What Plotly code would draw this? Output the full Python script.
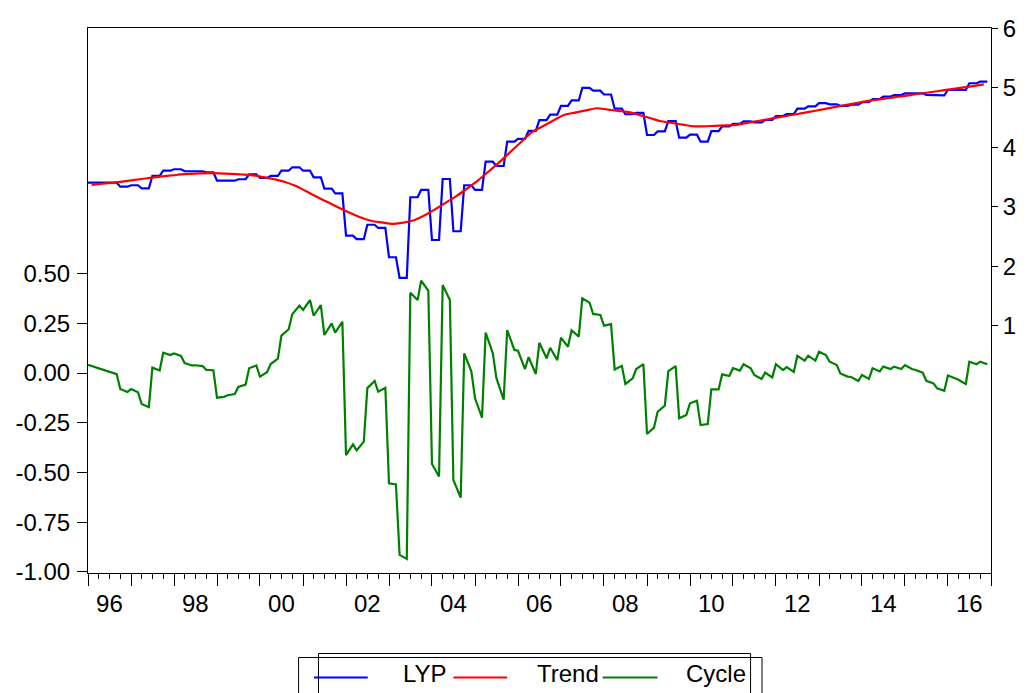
import numpy as np
import pandas as pd
import plotly.graph_objects as go

# ---------------- data ----------------
start_month = "1996-01-01"

# LYP, one value per quarter (series is monthly, constant within each quarter)
lyp_quarterly = [
    3.408, 3.408, 3.408, 3.341, 3.365, 3.314, 3.521, 3.610, 3.634, 3.600, 3.600, 3.583,
    3.442, 3.442, 3.466, 3.550, 3.487, 3.521, 3.610, 3.667, 3.610, 3.499, 3.308, 3.227,
    2.518, 2.459, 2.701, 2.647, 2.155, 1.807, 3.163, 3.286, 2.445, 3.470, 2.592, 3.365,
    3.286, 3.761, 3.689, 4.097, 4.143, 4.280, 4.460, 4.551, 4.700, 4.790, 5.000, 4.955,
    4.890, 4.652, 4.558, 4.580, 4.210, 4.270, 4.445, 4.165, 4.215, 4.097, 4.275, 4.355,
    4.395, 4.440, 4.420, 4.462, 4.529, 4.560, 4.652, 4.690, 4.745, 4.725, 4.700, 4.720,
    4.760, 4.815, 4.855, 4.880, 4.910, 4.910, 4.885, 4.875, 4.966, 4.966, 5.079, 5.106,
]

# HP trend, read at the middle month of each quarter
trend_quarterly = [
    3.373, 3.390, 3.407, 3.429, 3.454, 3.478, 3.501, 3.522, 3.542, 3.557, 3.563, 3.569,
    3.565, 3.555, 3.546, 3.532, 3.501, 3.466, 3.420, 3.351, 3.259, 3.168, 3.078, 2.988,
    2.904, 2.826, 2.769, 2.740, 2.717, 2.738, 2.776, 2.860, 2.965, 3.077, 3.191, 3.319,
    3.456, 3.605, 3.763, 3.932, 4.101, 4.257, 4.358, 4.457, 4.550, 4.586, 4.623, 4.659,
    4.637, 4.615, 4.593, 4.543, 4.492, 4.441, 4.411, 4.383, 4.356, 4.356, 4.364, 4.371,
    4.381, 4.413, 4.445, 4.477, 4.509, 4.541, 4.573, 4.606, 4.640, 4.674, 4.707, 4.741,
    4.774, 4.801, 4.827, 4.852, 4.877, 4.903, 4.928, 4.954, 4.980, 5.006, 5.032, 5.059,
]

# Cycle, monthly (one row per year)
cycle_monthly = [
    0.041, 0.035, 0.029, 0.024, 0.018, 0.012, 0.008, 0.001, -0.006, -0.080, -0.088, -0.096,   # 1996
    -0.081, -0.089, -0.097, -0.156, -0.164, -0.172, 0.027, 0.020, 0.013, 0.102, 0.096, 0.090,  # 1997
    0.098, 0.092, 0.086, 0.050, 0.044, 0.038, 0.039, 0.037, 0.035, 0.016, 0.015, 0.014,      # 1998
    -0.124, -0.122, -0.120, -0.112, -0.109, -0.106, -0.070, -0.064, -0.058, 0.024, 0.031, 0.038,  # 1999
    -0.018, -0.007, 0.004, 0.045, 0.058, 0.072, 0.188, 0.204, 0.220, 0.295, 0.317, 0.339,    # 2000
    0.317, 0.342, 0.367, 0.288, 0.315, 0.342, 0.191, 0.220, 0.250, 0.203, 0.230, 0.258,      # 2001
    -0.413, -0.386, -0.359, -0.389, -0.367, -0.345, -0.076, -0.058, -0.040, -0.094, -0.084, -0.074,  # 2002
    -0.555, -0.558, -0.561, -0.915, -0.925, -0.935, 0.404, 0.386, 0.367, 0.464, 0.439, 0.414,  # 2003
    -0.458, -0.490, -0.521, 0.443, 0.405, 0.367, -0.538, -0.583, -0.627, 0.099, 0.053, 0.007,  # 2004
    -0.127, -0.176, -0.225, 0.203, 0.151, 0.099, -0.025, -0.080, -0.134, 0.216, 0.166, 0.116,  # 2005
    0.112, 0.066, 0.020, 0.080, 0.038, -0.005, 0.152, 0.113, 0.074, 0.127, 0.096, 0.065,     # 2006
    0.178, 0.155, 0.132, 0.215, 0.199, 0.183, 0.376, 0.365, 0.354, 0.297, 0.295, 0.292,     # 2007
    0.238, 0.242, 0.246, 0.018, 0.027, 0.036, -0.055, -0.041, -0.027, 0.020, 0.033, 0.045,   # 2008
    -0.307, -0.291, -0.275, -0.195, -0.180, -0.164, 0.010, 0.022, 0.035, -0.228, -0.220, -0.211,  # 2009
    -0.152, -0.146, -0.139, -0.262, -0.260, -0.257, -0.082, -0.082, -0.082, -0.007, -0.011, -0.015,  # 2010
    0.024, 0.018, 0.012, 0.044, 0.034, 0.024, -0.010, -0.020, -0.030, 0.002, -0.010, -0.022,  # 2011
    0.044, 0.030, 0.015, 0.030, 0.018, 0.005, 0.086, 0.074, 0.062, 0.087, 0.075, 0.062,     # 2012
    0.107, 0.098, 0.090, 0.057, 0.048, 0.040, -0.002, -0.010, -0.018, -0.020, -0.030, -0.040,  # 2013
    -0.010, -0.020, -0.030, 0.024, 0.016, 0.008, 0.032, 0.026, 0.020, 0.032, 0.026, 0.020,   # 2014
    0.040, 0.030, 0.020, 0.015, 0.008, 0.002, -0.039, -0.045, -0.052, -0.077, -0.083, -0.090,  # 2015
    -0.013, -0.020, -0.027, -0.034, -0.045, -0.055, 0.057, 0.050, 0.044, 0.057, 0.050, 0.044,  # 2016
]

year_ticks = [str(y) for y in range(1996, 2018)]
year_labels = ["96", "98", "00", "02", "04", "06", "08", "10", "12", "14", "16"]
label_years = [1996, 1998, 2000, 2002, 2004, 2006, 2008, 2010, 2012, 2014, 2016]
left_ticks = [-1.0, -0.75, -0.5, -0.25, 0.0, 0.25, 0.5]
left_labels = ["-1.00", "-0.75", "-0.50", "-0.25", "0.00", "0.25", "0.50"]
right_ticks = [1, 2, 3, 4, 5, 6]
right_labels = ["1", "2", "3", "4", "5", "6"]
legend_names = ["LYP", "Trend", "Cycle"]
colors = ["#0000FF", "#FF0000", "#008000"]

# ---------------- build ----------------
months = pd.date_range(start_month, periods=len(cycle_monthly), freq="MS")
quarter_mid = pd.date_range("1996-02-01", periods=len(trend_quarterly), freq="3MS")
lyp_monthly = np.repeat(lyp_quarterly, 3)
quarter_starts = pd.date_range(start_month, "2017-01-01", freq="3MS")

FONT = "Liberation Sans, Arial, sans-serif"
W, H = 1028, 693
L, R, T, B = 88, 33, 28, 120
PW, PH = W - L - R, H - T - B
xr = ["1996-01-01", "2017-01-01"]

def px(x):
    return (x - L) / PW

def py(y):
    return (H - B - y) / PH

fig = go.Figure()
fig.add_trace(go.Scatter(x=months, y=lyp_monthly, yaxis="y2", mode="lines",
                         line=dict(color=colors[0], width=2.2), name=legend_names[0]))
fig.add_trace(go.Scatter(x=quarter_mid, y=trend_quarterly, yaxis="y2", mode="lines",
                         line=dict(color=colors[1], width=2.2, shape="spline"), name=legend_names[1]))
fig.add_trace(go.Scatter(x=months, y=cycle_monthly, yaxis="y", mode="lines",
                         line=dict(color=colors[2], width=2.2), name=legend_names[2]))
# empty trace so the tick-mark axis exists
fig.add_trace(go.Scatter(x=[], y=[], xaxis="x2", yaxis="y", showlegend=False, hoverinfo="skip"))

fig.update_layout(
    width=W, height=H,
    margin=dict(l=L, r=R, t=T, b=B),
    paper_bgcolor="white", plot_bgcolor="white",
    showlegend=False,
    font=dict(family=FONT, size=24, color="black"),
    xaxis=dict(
        type="date", range=xr, showgrid=False, zeroline=False,
        showline=True, linecolor="black", linewidth=1, mirror=True,
        tickmode="array",
        tickvals=[f"{y}-07-01" for y in label_years], ticktext=year_labels,
        ticks="outside", ticklen=9, tickcolor="rgba(0,0,0,0)",
        tickfont=dict(family=FONT, size=24, color="black"),
        minor=dict(tickmode="array", tickvals=list(quarter_starts), ticks="outside",
                   ticklen=5, tickcolor="black", tickwidth=1, showgrid=False),
    ),
    xaxis2=dict(
        type="date", range=xr, overlaying="x", anchor="y", side="bottom",
        showgrid=False, zeroline=False, showline=False, showticklabels=False,
        tickmode="array", tickvals=[f"{y}-01-01" for y in year_ticks],
        ticks="outside", ticklen=12, tickcolor="black", tickwidth=1,
    ),
    yaxis=dict(
        range=[-1.006, 1.7354], showgrid=False, zeroline=False,
        showline=True, linecolor="black", linewidth=1,
        tickmode="array", tickvals=left_ticks, ticktext=left_labels,
        ticks="outside", ticklen=10, tickcolor="black",
        ticklabelstandoff=2,
        tickfont=dict(family=FONT, size=24, color="black"),
    ),
    yaxis2=dict(
        range=[-3.152, 6.008], overlaying="y", side="right", anchor="x",
        showgrid=False, zeroline=False,
        showline=True, linecolor="black", linewidth=1,
        tickmode="array", tickvals=right_ticks, ticktext=right_labels,
        ticks="outside", ticklen=6, tickcolor="black",
        tickfont=dict(family=FONT, size=24, color="black"),
    ),
)

# ---------------- legend (drawn like the EViews legend box) ----------------
shapes = [
    dict(type="rect", xref="paper", yref="paper", x0=px(299.5), x1=px(765), y0=py(700), y1=py(657.5),
         line=dict(color="black", width=1), fillcolor="rgba(0,0,0,0)"),
    dict(type="rect", xref="paper", yref="paper", x0=px(319.5), x1=px(753.5), y0=py(700), y1=py(653.5),
         line=dict(color="black", width=1), fillcolor="rgba(0,0,0,0)"),
]
line_x = [(315, 369), (455, 509), (605, 660)]
text_x = [402, 537, 687]
annotations = []
for (a, b), tx, name, col in zip(line_x, text_x, legend_names, colors):
    shapes.append(dict(type="line", xref="paper", yref="paper", x0=px(a), x1=px(b),
                       y0=py(677.5), y1=py(677.5), line=dict(color=col, width=2)))
    annotations.append(dict(xref="paper", yref="paper", x=px(tx), y=py(673.5), text=name,
                            showarrow=False, xanchor="left", yanchor="middle",
                            font=dict(family=FONT, size=24, color="black")))
fig.update_layout(shapes=shapes, annotations=annotations)

fig.write_html("out.html")
